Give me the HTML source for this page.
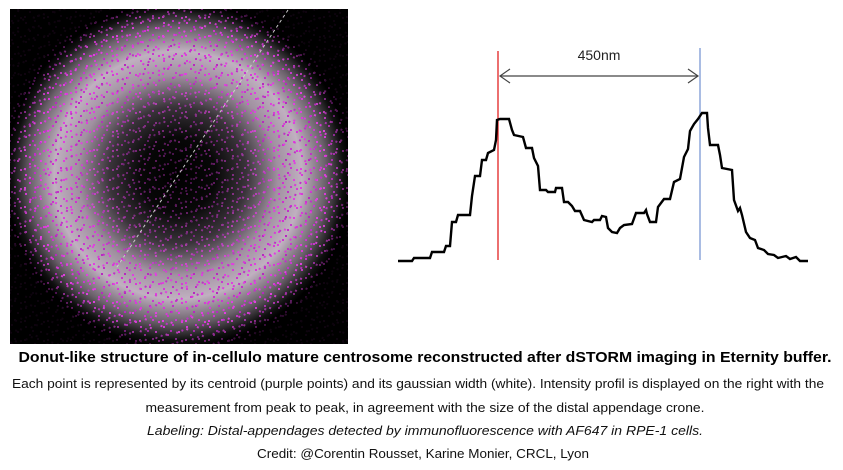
<!DOCTYPE html>
<html><head><meta charset="utf-8"><style>
html,body{margin:0;padding:0;background:#fff;}
svg{display:block;}
text{font-family:"Liberation Sans",sans-serif;}
</style></head><body>
<svg width="843" height="470" viewBox="0 0 843 470" xmlns="http://www.w3.org/2000/svg">
<defs>
<radialGradient id="ring" cx="178" cy="175" r="172" gradientUnits="userSpaceOnUse">
<stop offset="0" stop-color="#000"/>
<stop offset="0.22" stop-color="#080808"/>
<stop offset="0.4" stop-color="#3a343a"/>
<stop offset="0.58" stop-color="#a090a0"/>
<stop offset="0.72" stop-color="#c0b0c0"/>
<stop offset="0.86" stop-color="#6a606a"/>
<stop offset="0.96" stop-color="#101010"/>
<stop offset="1" stop-color="#000"/>
</radialGradient>
<radialGradient id="mk" cx="178" cy="175" r="180" gradientUnits="userSpaceOnUse">
<stop offset="0" stop-color="#444"/>
<stop offset="0.35" stop-color="#888"/>
<stop offset="0.58" stop-color="#fff"/>
<stop offset="0.84" stop-color="#fff"/>
<stop offset="1" stop-color="#111"/>
</radialGradient>
<mask id="m"><rect x="10" y="9" width="338" height="335" fill="url(#mk)"/></mask>
<pattern id="dots" width="23" height="19" patternUnits="userSpaceOnUse">
<rect x="2" y="3" width="2" height="2" fill="#d83ad8"/>
<rect x="11" y="1" width="2" height="2" fill="#c030c8"/>
<rect x="17" y="8" width="2" height="2" fill="#e040e0"/>
<rect x="6" y="11" width="2" height="2" fill="#d030d0"/>
<rect x="14" y="15" width="2" height="2" fill="#c838d0"/>
<rect x="20" y="17" width="2" height="2" fill="#d83ad8"/>
<rect x="1" y="16" width="2" height="2" fill="#e040e0"/>
<rect x="9" y="7" width="2" height="2" fill="#b828c0"/>
</pattern>
<pattern id="dots2" width="17" height="13" patternUnits="userSpaceOnUse" patternTransform="rotate(23)">
<rect x="3" y="2" width="2" height="2" fill="#d83ad8"/>
<rect x="11" y="8" width="2" height="2" fill="#e040e0"/>
<rect x="7" y="11" width="2" height="2" fill="#c030c8"/>
</pattern>
</defs>
<rect x="10" y="9" width="338" height="335" fill="#000"/>
<rect x="10" y="9" width="338" height="335" fill="url(#ring)"/>
<g mask="url(#m)">
<rect x="10" y="9" width="338" height="335" fill="url(#dots)"/>
<rect x="10" y="9" width="338" height="335" fill="url(#dots2)"/>
</g>
<line x1="288" y1="10" x2="115" y2="270" stroke="#ccc" stroke-width="1" stroke-dasharray="3,3"/>

<line x1="498" y1="51" x2="498" y2="260" stroke="#e01010" stroke-width="1.2"/>
<line x1="700" y1="48" x2="700" y2="260" stroke="#7090d0" stroke-width="1.2"/>
<line x1="500" y1="76" x2="698" y2="76" stroke="#444" stroke-width="1.3"/>
<polyline points="510,69 500,76 510,83" fill="none" stroke="#444" stroke-width="1.2"/>
<polyline points="688,69 698,76 688,83" fill="none" stroke="#444" stroke-width="1.2"/>
<text x="599" y="60" font-size="14" text-anchor="middle" fill="#222">450nm</text>

<polyline fill="none" stroke="#000" stroke-width="2.4" stroke-linejoin="miter" points="398,261 412,261 414,258 430,258 432,252 444,252 446,246 450,246 452,222 456,222 458,215 470,215 472,196 475,176 480,176 482,160 486,160 488,153 494,150 496,140 497,120 500,119 509,119 512,130 514,135 523,137 526,148 532,148 534,158 538,166 540,190 546,190 548,192 555,192 556,188 562,188 564,202 568,202 572,206 575,211 580,211 584,220 592,222 594,220 600,220 602,216 606,217 608,228 612,232 617,233 620,228 624,225 632,224 636,213 644,213 646,210 647,214 650,222 656,222 658,207 664,199 670,199 674,182 680,179 684,157 688,149 690,131 694,124 698,119 702,113 707,113 708,128 710,145 718,145 720,155 722,168 732,170 734,200 738,211 740,208 742,215 746,232 750,238 755,240 758,248 764,250 768,254 774,255 778,258 786,256 790,259 796,257 800,261 808,261"/>

<text x="425" y="362" font-size="15" font-weight="bold" text-anchor="middle" textLength="813" lengthAdjust="spacingAndGlyphs" fill="#000">Donut-like structure of in-cellulo mature centrosome reconstructed after dSTORM imaging in Eternity buffer.</text>
<text x="418" y="388" font-size="13" text-anchor="middle" textLength="812" lengthAdjust="spacingAndGlyphs" fill="#111">Each point is represented by its centroid (purple points) and its gaussian width (white). Intensity profil is displayed on the right with the</text>
<text x="425" y="412" font-size="13" text-anchor="middle" textLength="559" lengthAdjust="spacingAndGlyphs" fill="#111">measurement from peak to peak, in agreement with the size of the distal appendage crone.</text>
<text x="425" y="435" font-size="13" font-style="italic" text-anchor="middle" textLength="556" lengthAdjust="spacingAndGlyphs" fill="#111">Labeling: Distal-appendages detected by immunofluorescence with AF647 in RPE-1 cells.</text>
<text x="423" y="458" font-size="13" text-anchor="middle" textLength="332" lengthAdjust="spacingAndGlyphs" fill="#111">Credit: @Corentin Rousset, Karine Monier, CRCL, Lyon</text>
</svg>
</body></html>
